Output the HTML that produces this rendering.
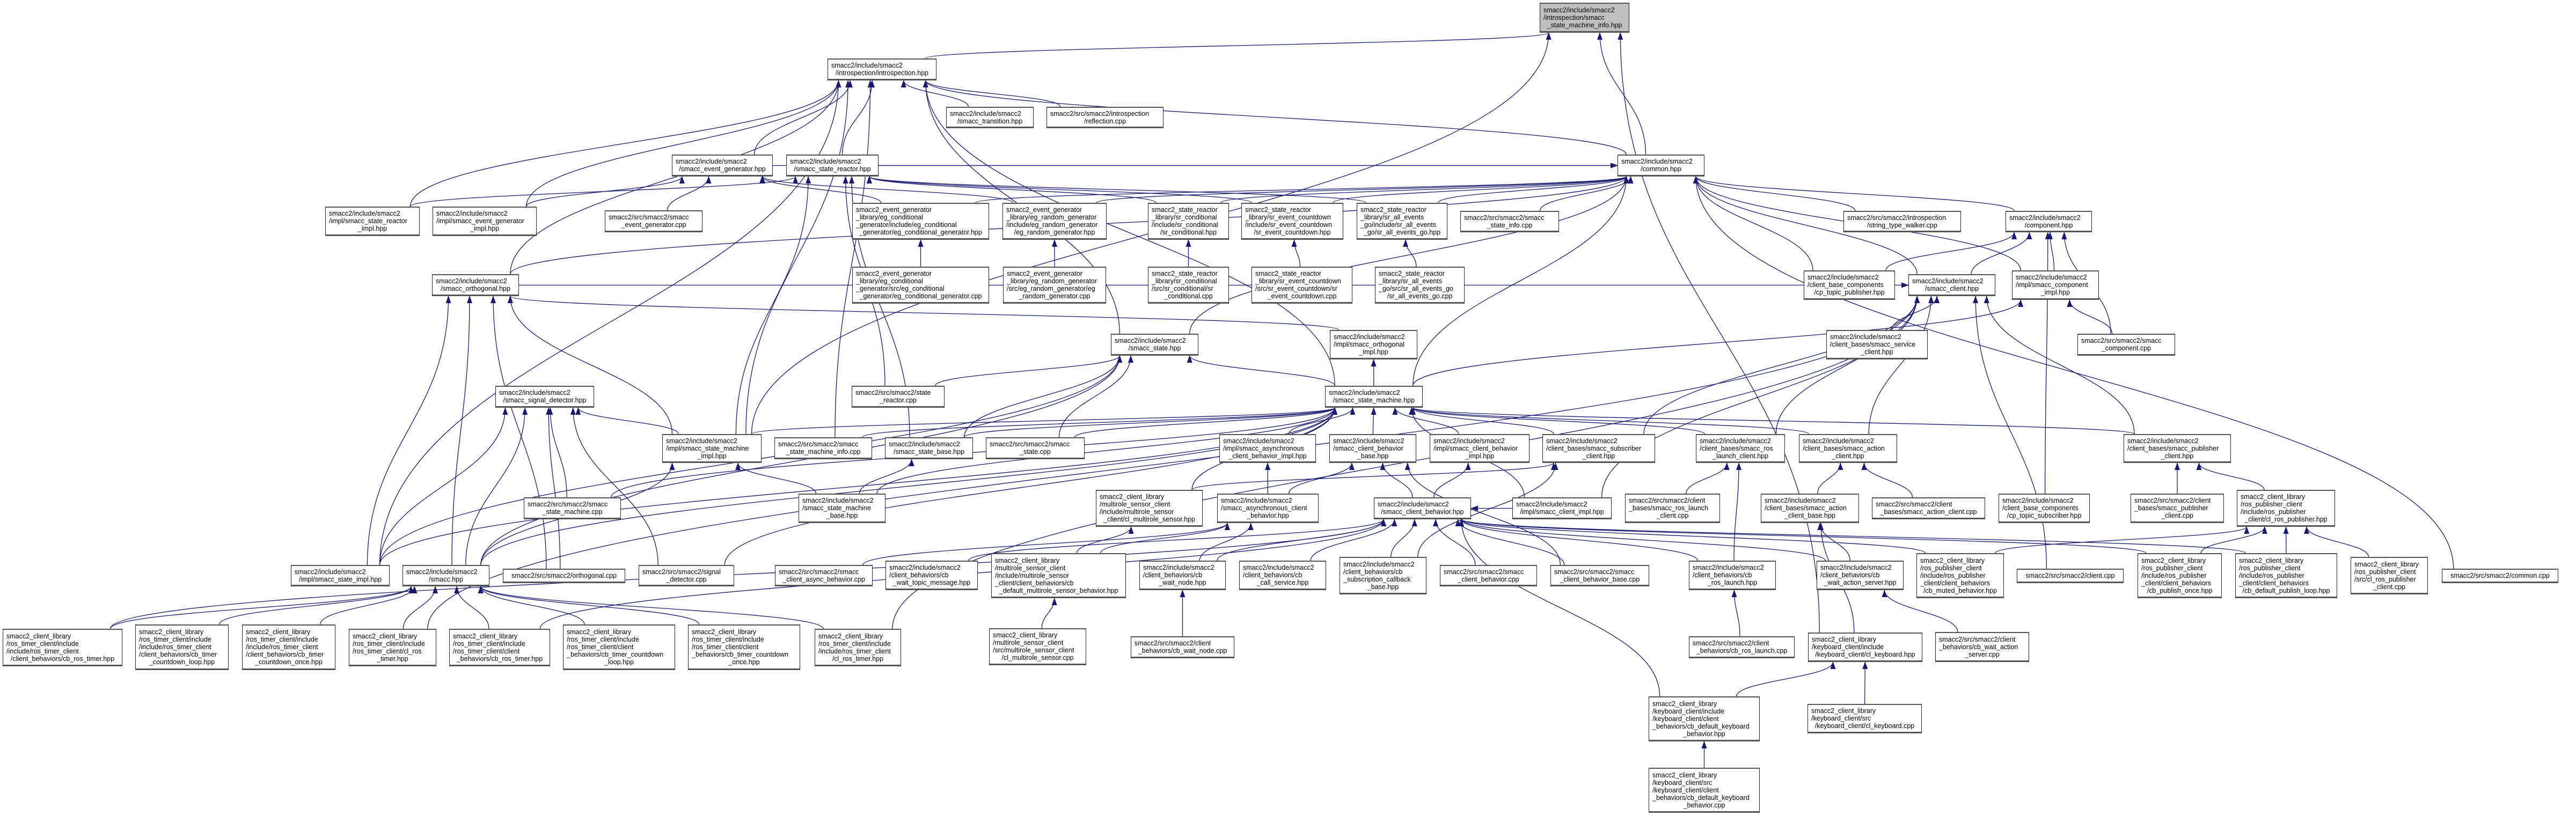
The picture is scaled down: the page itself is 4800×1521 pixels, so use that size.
<!DOCTYPE html>
<html><head><meta charset="utf-8">
<style>
html,body{margin:0;padding:0;background:#fff;}
#wrap{position:relative;width:4800px;height:1521px;overflow:hidden;background:#fff;}
svg{position:absolute;left:0;top:0;}
.n{position:absolute;box-sizing:border-box;background:#fff;border:1.5px solid #222;border-top:2.5px solid #555;border-bottom:3px solid #555;
font-family:"Liberation Sans",sans-serif;font-size:12.5px;line-height:14px;color:#000;
display:flex;flex-direction:column;justify-content:center;padding:0 6px;white-space:nowrap;z-index:2;}
.n div{ text-align:left;}
.n div.c{text-align:center;}
.g{background:#bfbfbf;}
</style></head><body><div id="wrap">
<svg id="sv" width="4800" height="1521" xmlns="http://www.w3.org/2000/svg">
<defs><marker id="ah" markerUnits="userSpaceOnUse" markerWidth="14" markerHeight="10" refX="13" refY="5" orient="auto"><path d="M0,0 L14,5 L0,10 z" fill="#191970"/></marker></defs>
<g id="eg" fill="none" stroke="#191970" stroke-width="1.3"></g>
</svg>
<div class="n g" id="root" style="left:2869px;top:5px;width:167px;height:56px"><div>smacc2/include/smacc2</div><div>/introspection/smacc</div><div class="c">_state_machine_info.hpp</div></div>
<div class="n" id="intro" style="left:1542px;top:109px;width:203px;height:41px"><div>smacc2/include/smacc2</div><div class="c">/introspection/introspection.hpp</div></div>
<div class="n" id="trans" style="left:1763px;top:199px;width:163px;height:40px"><div>smacc2/include/smacc2</div><div class="c">/smacc_transition.hpp</div></div>
<div class="n" id="refl" style="left:1950px;top:199px;width:218px;height:40px"><div>smacc2/src/smacc2/introspection</div><div class="c">/reflection.cpp</div></div>
<div class="n" id="evgen" style="left:1252px;top:288px;width:188px;height:41px"><div>smacc2/include/smacc2</div><div class="c">/smacc_event_generator.hpp</div></div>
<div class="n" id="sreact" style="left:1465px;top:288px;width:172px;height:41px"><div>smacc2/include/smacc2</div><div class="c">/smacc_state_reactor.hpp</div></div>
<div class="n" id="common" style="left:3014px;top:288px;width:162px;height:41px"><div>smacc2/include/smacc2</div><div class="c">/common.hpp</div></div>
<div class="n" id="srimpl" style="left:606px;top:385px;width:176px;height:55px"><div>smacc2/include/smacc2</div><div>/impl/smacc_state_reactor</div><div class="c">_impl.hpp</div></div>
<div class="n" id="egimpl" style="left:806px;top:385px;width:194px;height:55px"><div>smacc2/include/smacc2</div><div>/impl/smacc_event_generator</div><div class="c">_impl.hpp</div></div>
<div class="n" id="egcpp" style="left:1127px;top:392px;width:182px;height:41px"><div>smacc2/src/smacc2/smacc</div><div class="c">_event_generator.cpp</div></div>
<div class="n" id="egcondh" style="left:1588px;top:378px;width:255px;height:69px"><div>smacc2_event_generator</div><div>_library/eg_conditional</div><div>_generator/include/eg_conditional</div><div class="c">_generator/eg_conditional_generator.hpp</div></div>
<div class="n" id="egrandh" style="left:1868px;top:378px;width:194px;height:69px"><div>smacc2_event_generator</div><div>_library/eg_random_generator</div><div>/include/eg_random_generator</div><div class="c">/eg_random_generator.hpp</div></div>
<div class="n" id="srcondh" style="left:2139px;top:378px;width:151px;height:69px"><div>smacc2_state_reactor</div><div>_library/sr_conditional</div><div>/include/sr_conditional</div><div class="c">/sr_conditional.hpp</div></div>
<div class="n" id="srevh" style="left:2313px;top:378px;width:190px;height:69px"><div>smacc2_state_reactor</div><div>_library/sr_event_countdown</div><div>/include/sr_event_countdown</div><div class="c">/sr_event_countdown.hpp</div></div>
<div class="n" id="srallh" style="left:2528px;top:378px;width:169px;height:69px"><div>smacc2_state_reactor</div><div>_library/sr_all_events</div><div>_go/include/sr_all_events</div><div class="c">_go/sr_all_events_go.hpp</div></div>
<div class="n" id="sinfo" style="left:2721px;top:393px;width:184px;height:40px"><div>smacc2/src/smacc2/smacc</div><div class="c">_state_info.cpp</div></div>
<div class="n" id="stw" style="left:3435px;top:393px;width:219px;height:40px"><div>smacc2/src/smacc2/introspection</div><div class="c">/string_type_walker.cpp</div></div>
<div class="n" id="comp" style="left:3737px;top:393px;width:161px;height:40px"><div>smacc2/include/smacc2</div><div class="c">/component.hpp</div></div>
<div class="n" id="orth" style="left:805px;top:511px;width:162px;height:41px"><div>smacc2/include/smacc2</div><div class="c">/smacc_orthogonal.hpp</div></div>
<div class="n" id="egcondc" style="left:1588px;top:497px;width:255px;height:69px"><div>smacc2_event_generator</div><div>_library/eg_conditional</div><div>_generator/src/eg_conditional</div><div class="c">_generator/eg_conditional_generator.cpp</div></div>
<div class="n" id="egrandc" style="left:1869px;top:497px;width:192px;height:69px"><div>smacc2_event_generator</div><div>_library/eg_random_generator</div><div>/src/eg_random_generator/eg</div><div class="c">_random_generator.cpp</div></div>
<div class="n" id="srcondc" style="left:2139px;top:497px;width:151px;height:69px"><div>smacc2_state_reactor</div><div>_library/sr_conditional</div><div>/src/sr_conditional/sr</div><div class="c">_conditional.cpp</div></div>
<div class="n" id="srevc" style="left:2332px;top:497px;width:188px;height:69px"><div>smacc2_state_reactor</div><div>_library/sr_event_countdown</div><div>/src/sr_event_countdown/sr</div><div class="c">_event_countdown.cpp</div></div>
<div class="n" id="srallc" style="left:2562px;top:497px;width:167px;height:69px"><div>smacc2_state_reactor</div><div>_library/sr_all_events</div><div>_go/src/sr_all_events_go</div><div class="c">/sr_all_events_go.cpp</div></div>
<div class="n" id="cptp" style="left:3361px;top:504px;width:170px;height:55px"><div>smacc2/include/smacc2</div><div>/client_base_components</div><div class="c">/cp_topic_publisher.hpp</div></div>
<div class="n" id="client" style="left:3556px;top:511px;width:162px;height:41px"><div>smacc2/include/smacc2</div><div class="c">/smacc_client.hpp</div></div>
<div class="n" id="compimpl" style="left:3749px;top:504px;width:162px;height:55px"><div>smacc2/include/smacc2</div><div>/impl/smacc_component</div><div class="c">_impl.hpp</div></div>
<div class="n" id="state" style="left:2070px;top:622px;width:163px;height:41px"><div>smacc2/include/smacc2</div><div class="c">/smacc_state.hpp</div></div>
<div class="n" id="orthimpl" style="left:2478px;top:615px;width:163px;height:55px"><div>smacc2/include/smacc2</div><div>/impl/smacc_orthogonal</div><div class="c">_impl.hpp</div></div>
<div class="n" id="svc" style="left:3403px;top:615px;width:189px;height:55px"><div>smacc2/include/smacc2</div><div>/client_bases/smacc_service</div><div class="c">_client.hpp</div></div>
<div class="n" id="compcpp" style="left:3871px;top:622px;width:182px;height:41px"><div>smacc2/src/smacc2/smacc</div><div class="c">_component.cpp</div></div>
<div class="n" id="sigdet" style="left:923px;top:719px;width:184px;height:41px"><div>smacc2/include/smacc2</div><div class="c">/smacc_signal_detector.hpp</div></div>
<div class="n" id="srcpp" style="left:1587px;top:719px;width:173px;height:41px"><div>smacc2/src/smacc2/state</div><div class="c">_reactor.cpp</div></div>
<div class="n" id="sm" style="left:2469px;top:719px;width:182px;height:41px"><div>smacc2/include/smacc2</div><div class="c">/smacc_state_machine.hpp</div></div>
<div class="n" id="smimpl" style="left:1234px;top:809px;width:185px;height:54px"><div>smacc2/include/smacc2</div><div>/impl/smacc_state_machine</div><div class="c">_impl.hpp</div></div>
<div class="n" id="sminfo" style="left:1443px;top:815px;width:182px;height:41px"><div>smacc2/src/smacc2/smacc</div><div class="c">_state_machine_info.cpp</div></div>
<div class="n" id="sbase" style="left:1649px;top:815px;width:164px;height:41px"><div>smacc2/include/smacc2</div><div class="c">/smacc_state_base.hpp</div></div>
<div class="n" id="statecpp" style="left:1837px;top:815px;width:184px;height:41px"><div>smacc2/src/smacc2/smacc</div><div class="c">_state.cpp</div></div>
<div class="n" id="asyncimpl" style="left:2272px;top:809px;width:180px;height:54px"><div>smacc2/include/smacc2</div><div>/impl/smacc_asynchronous</div><div class="c">_client_behavior_impl.hpp</div></div>
<div class="n" id="cbbase" style="left:2477px;top:809px;width:162px;height:54px"><div>smacc2/include/smacc2</div><div>/smacc_client_behavior</div><div class="c">_base.hpp</div></div>
<div class="n" id="cbimpl" style="left:2664px;top:809px;width:186px;height:54px"><div>smacc2/include/smacc2</div><div>/impl/smacc_client_behavior</div><div class="c">_impl.hpp</div></div>
<div class="n" id="subcl" style="left:2874px;top:809px;width:210px;height:54px"><div>smacc2/include/smacc2</div><div>/client_bases/smacc_subscriber</div><div class="c">_client.hpp</div></div>
<div class="n" id="rlch" style="left:3160px;top:809px;width:166px;height:54px"><div>smacc2/include/smacc2</div><div>/client_bases/smacc_ros</div><div class="c">_launch_client.hpp</div></div>
<div class="n" id="acth" style="left:3352px;top:809px;width:183px;height:54px"><div>smacc2/include/smacc2</div><div>/client_bases/smacc_action</div><div class="c">_client.hpp</div></div>
<div class="n" id="pubh" style="left:3957px;top:809px;width:200px;height:54px"><div>smacc2/include/smacc2</div><div>/client_bases/smacc_publisher</div><div class="c">_client.hpp</div></div>
<div class="n" id="smcpp" style="left:976px;top:927px;width:181px;height:41px"><div>smacc2/src/smacc2/smacc</div><div class="c">_state_machine.cpp</div></div>
<div class="n" id="smbase" style="left:1488px;top:920px;width:162px;height:55px"><div>smacc2/include/smacc2</div><div>/smacc_state_machine</div><div class="c">_base.hpp</div></div>
<div class="n" id="multih" style="left:2042px;top:913px;width:199px;height:69px"><div>smacc2_client_library</div><div>/multirole_sensor_client</div><div>/include/multirole_sensor</div><div class="c">_client/cl_multirole_sensor.hpp</div></div>
<div class="n" id="asynccb" style="left:2268px;top:920px;width:189px;height:55px"><div>smacc2/include/smacc2</div><div>/smacc_asynchronous_client</div><div class="c">_behavior.hpp</div></div>
<div class="n" id="cb" style="left:2560px;top:927px;width:181px;height:41px"><div>smacc2/include/smacc2</div><div class="c">/smacc_client_behavior.hpp</div></div>
<div class="n" id="climpl" style="left:2818px;top:927px;width:185px;height:41px"><div>smacc2/include/smacc2</div><div class="c">/impl/smacc_client_impl.hpp</div></div>
<div class="n" id="rlcpp" style="left:3028px;top:920px;width:177px;height:55px"><div>smacc2/src/smacc2/client</div><div>_bases/smacc_ros_launch</div><div class="c">_client.cpp</div></div>
<div class="n" id="actbase" style="left:3281px;top:920px;width:183px;height:55px"><div>smacc2/include/smacc2</div><div>/client_bases/smacc_action</div><div class="c">_client_base.hpp</div></div>
<div class="n" id="actcpp" style="left:3488px;top:927px;width:211px;height:41px"><div>smacc2/src/smacc2/client</div><div class="c">_bases/smacc_action_client.cpp</div></div>
<div class="n" id="cpts" style="left:3724px;top:920px;width:170px;height:55px"><div>smacc2/include/smacc2</div><div>/client_base_components</div><div class="c">/cp_topic_subscriber.hpp</div></div>
<div class="n" id="pubcpp" style="left:3970px;top:920px;width:174px;height:55px"><div>smacc2/src/smacc2/client</div><div>_bases/smacc_publisher</div><div class="c">_client.cpp</div></div>
<div class="n" id="rospubh" style="left:4168px;top:913px;width:183px;height:69px"><div>smacc2_client_library</div><div>/ros_publisher_client</div><div>/include/ros_publisher</div><div class="c">_client/cl_ros_publisher.hpp</div></div>
<div class="n" id="stimpl" style="left:542px;top:1053px;width:184px;height:40px"><div>smacc2/include/smacc2</div><div class="c">/impl/smacc_state_impl.hpp</div></div>
<div class="n" id="smacch" style="left:750px;top:1053px;width:162px;height:40px"><div>smacc2/include/smacc2</div><div class="c">/smacc.hpp</div></div>
<div class="n" id="orthcpp" style="left:937px;top:1060px;width:228px;height:27px"><div class="c">smacc2/src/smacc2/orthogonal.cpp</div></div>
<div class="n" id="sigcpp" style="left:1190px;top:1053px;width:178px;height:40px"><div>smacc2/src/smacc2/signal</div><div class="c">_detector.cpp</div></div>
<div class="n" id="asynccpp" style="left:1444px;top:1053px;width:182px;height:40px"><div>smacc2/src/smacc2/smacc</div><div class="c">_client_async_behavior.cpp</div></div>
<div class="n" id="wtm" style="left:1650px;top:1045px;width:172px;height:55px"><div>smacc2/include/smacc2</div><div>/client_behaviors/cb</div><div class="c">_wait_topic_message.hpp</div></div>
<div class="n" id="dms" style="left:1847px;top:1031px;width:251px;height:84px"><div>smacc2_client_library</div><div>/multirole_sensor_client</div><div>/include/multirole_sensor</div><div>_client/client_behaviors/cb</div><div class="c">_default_multirole_sensor_behavior.hpp</div></div>
<div class="n" id="wnh" style="left:2123px;top:1045px;width:161px;height:55px"><div>smacc2/include/smacc2</div><div>/client_behaviors/cb</div><div class="c">_wait_node.hpp</div></div>
<div class="n" id="csh" style="left:2309px;top:1045px;width:162px;height:55px"><div>smacc2/include/smacc2</div><div>/client_behaviors/cb</div><div class="c">_call_service.hpp</div></div>
<div class="n" id="scb" style="left:2496px;top:1038px;width:162px;height:70px"><div>smacc2/include/smacc2</div><div>/client_behaviors/cb</div><div>_subscription_callback</div><div class="c">_base.hpp</div></div>
<div class="n" id="cbcpp" style="left:2683px;top:1053px;width:181px;height:40px"><div>smacc2/src/smacc2/smacc</div><div class="c">_client_behavior.cpp</div></div>
<div class="n" id="cbbcpp" style="left:2889px;top:1053px;width:184px;height:40px"><div>smacc2/src/smacc2/smacc</div><div class="c">_client_behavior_base.cpp</div></div>
<div class="n" id="rlb" style="left:3147px;top:1045px;width:162px;height:55px"><div>smacc2/include/smacc2</div><div>/client_behaviors/cb</div><div class="c">_ros_launch.hpp</div></div>
<div class="n" id="was" style="left:3385px;top:1045px;width:162px;height:55px"><div>smacc2/include/smacc2</div><div>/client_behaviors/cb</div><div class="c">_wait_action_server.hpp</div></div>
<div class="n" id="muted" style="left:3571px;top:1031px;width:163px;height:84px"><div>smacc2_client_library</div><div>/ros_publisher_client</div><div>/include/ros_publisher</div><div>_client/client_behaviors</div><div class="c">/cb_muted_behavior.hpp</div></div>
<div class="n" id="clientcpp" style="left:3758px;top:1060px;width:199px;height:27px"><div class="c">smacc2/src/smacc2/client.cpp</div></div>
<div class="n" id="ponce" style="left:3983px;top:1031px;width:157px;height:84px"><div>smacc2_client_library</div><div>/ros_publisher_client</div><div>/include/ros_publisher</div><div>_client/client_behaviors</div><div class="c">/cb_publish_once.hpp</div></div>
<div class="n" id="ploop" style="left:4165px;top:1031px;width:190px;height:84px"><div>smacc2_client_library</div><div>/ros_publisher_client</div><div>/include/ros_publisher</div><div>_client/client_behaviors</div><div class="c">/cb_default_publish_loop.hpp</div></div>
<div class="n" id="rospubc" style="left:4380px;top:1038px;width:144px;height:70px"><div>smacc2_client_library</div><div>/ros_publisher_client</div><div>/src/cl_ros_publisher</div><div class="c">_client.cpp</div></div>
<div class="n" id="commoncpp" style="left:4550px;top:1060px;width:217px;height:27px"><div class="c">smacc2/src/smacc2/common.cpp</div></div>
<div class="n" id="t1" style="left:5px;top:1172px;width:223px;height:70px"><div>smacc2_client_library</div><div>/ros_timer_client/include</div><div>/include/ros_timer_client</div><div class="c">/client_behaviors/cb_ros_timer.hpp</div></div>
<div class="n" id="t2" style="left:252px;top:1164px;width:174px;height:85px"><div>smacc2_client_library</div><div>/ros_timer_client/include</div><div>/include/ros_timer_client</div><div>/client_behaviors/cb_timer</div><div class="c">_countdown_loop.hpp</div></div>
<div class="n" id="t3" style="left:451px;top:1164px;width:174px;height:85px"><div>smacc2_client_library</div><div>/ros_timer_client/include</div><div>/include/ros_timer_client</div><div>/client_behaviors/cb_timer</div><div class="c">_countdown_once.hpp</div></div>
<div class="n" id="t4" style="left:650px;top:1172px;width:163px;height:70px"><div>smacc2_client_library</div><div>/ros_timer_client/include</div><div>/ros_timer_client/cl_ros</div><div class="c">_timer.hpp</div></div>
<div class="n" id="t5" style="left:837px;top:1172px;width:188px;height:70px"><div>smacc2_client_library</div><div>/ros_timer_client/include</div><div>/ros_timer_client/client</div><div class="c">_behaviors/cb_ros_timer.hpp</div></div>
<div class="n" id="t6" style="left:1049px;top:1164px;width:209px;height:85px"><div>smacc2_client_library</div><div>/ros_timer_client/include</div><div>/ros_timer_client/client</div><div>_behaviors/cb_timer_countdown</div><div class="c">_loop.hpp</div></div>
<div class="n" id="t7" style="left:1282px;top:1164px;width:209px;height:85px"><div>smacc2_client_library</div><div>/ros_timer_client/include</div><div>/ros_timer_client/client</div><div>_behaviors/cb_timer_countdown</div><div class="c">_once.hpp</div></div>
<div class="n" id="t8" style="left:1518px;top:1172px;width:161px;height:70px"><div>smacc2_client_library</div><div>/ros_timer_client/include</div><div>/include/ros_timer_client</div><div class="c">/cl_ros_timer.hpp</div></div>
<div class="n" id="mscpp" style="left:1843px;top:1171px;width:181px;height:69px"><div>smacc2_client_library</div><div>/multirole_sensor_client</div><div>/src/multirole_sensor_client</div><div class="c">/cl_multirole_sensor.cpp</div></div>
<div class="n" id="wncpp" style="left:2107px;top:1186px;width:193px;height:41px"><div>smacc2/src/smacc2/client</div><div class="c">_behaviors/cb_wait_node.cpp</div></div>
<div class="n" id="rlbcpp" style="left:3147px;top:1186px;width:197px;height:41px"><div>smacc2/src/smacc2/client</div><div class="c">_behaviors/cb_ros_launch.cpp</div></div>
<div class="n" id="kbh" style="left:3369px;top:1179px;width:213px;height:55px"><div>smacc2_client_library</div><div>/keyboard_client/include</div><div class="c">/keyboard_client/cl_keyboard.hpp</div></div>
<div class="n" id="wascpp" style="left:3606px;top:1178px;width:175px;height:56px"><div>smacc2/src/smacc2/client</div><div>_behaviors/cb_wait_action</div><div class="c">_server.cpp</div></div>
<div class="n" id="kbbh" style="left:3072px;top:1298px;width:207px;height:84px"><div>smacc2_client_library</div><div>/keyboard_client/include</div><div>/keyboard_client/client</div><div>_behaviors/cb_default_keyboard</div><div class="c">_behavior.hpp</div></div>
<div class="n" id="kbcpp" style="left:3368px;top:1312px;width:213px;height:55px"><div>smacc2_client_library</div><div>/keyboard_client/src</div><div class="c">/keyboard_client/cl_keyboard.cpp</div></div>
<div class="n" id="kbbc" style="left:3072px;top:1431px;width:207px;height:84px"><div>smacc2_client_library</div><div>/keyboard_client/src</div><div>/keyboard_client/client</div><div>_behaviors/cb_default_keyboard</div><div class="c">_behavior.cpp</div></div>
</div>
<script>
(function(){
var E="intro>root common>root smimpl>root kbh>root "+
"trans>intro refl>intro evgen>intro sreact>intro srimpl>intro egimpl>intro orth>intro smimpl>intro sminfo>intro common>intro sm>intro state>intro stimpl>intro "+
"evgen>common sreact>common egcondh>common egrandh>common srcondh>common srevh>common srallh>common sinfo>common stw>common comp>common cptp>common client>common orth>common sm>common state>common commoncpp>common compimpl>common "+
"srimpl>sreact srcondh>sreact srevh>sreact srallh>sreact srcpp>sreact smimpl>sreact sbase>sreact "+
"egcondh>evgen egrandh>evgen egimpl>evgen egcpp>evgen "+
"egcondc>egcondh egrandc>egrandh srcondc>srcondh srevc>srevh srallc>srallh "+
"cptp>comp client>comp compimpl>comp compcpp>comp cpts>comp compcpp>compimpl sm>compimpl "+
"svc>client subcl>client rlch>client acth>client pubh>client climpl>client clientcpp>client orth>client "+
"orthimpl>orth smimpl>orth orthcpp>orth smacch>orth stimpl>orth "+
"sbase>state srcpp>state statecpp>state stimpl>state smacch>state sm>state sm>orthimpl "+
"smimpl>sm sminfo>sm sbase>sm statecpp>sm asyncimpl>sm cbbase>sm cbimpl>sm subcl>sm rlch>sm acth>sm smcpp>sm smbase>sm multih>sm climpl>sm pubh>sm smacch>sm stimpl>sm sigcpp>sm "+
"smimpl>sigdet smcpp>sigdet stimpl>sigdet smacch>sigdet orthcpp>sigdet sigcpp>sigdet "+
"smbase>smimpl smacch>smimpl smbase>sbase asynccb>asyncimpl asynccb>cbbase cb>cbbase cbbcpp>cbbase cb>cbimpl "+
"multih>subcl scb>subcl rlcpp>rlch rlb>rlch actbase>acth actcpp>acth was>actbase kbh>actbase pubcpp>pubh rospubh>pubh "+
"muted>rospubh ponce>rospubh ploop>rospubh rospubc>rospubh "+
"wtm>cb wnh>cb csh>cb scb>cb cbcpp>cb cbbcpp>cb rlb>cb was>cb muted>cb ponce>cb ploop>cb kbbh>cb climpl>cb "+
"asynccpp>asynccb dms>asynccb wnh>asynccb dms>multih mscpp>dms wncpp>wnh rlbcpp>rlb wascpp>was kbbh>kbh kbcpp>kbh kbbc>kbbh "+
"t1>smacch t2>smacch t3>smacch t4>smacch t5>smacch t6>smacch t7>smacch t8>smacch t1>cb t5>cb t4>client t8>client";
function box(id){var e=document.getElementById(id);return {x:e.offsetLeft,y:e.offsetTop,w:e.offsetWidth,h:e.offsetHeight};}
var g=document.getElementById('eg'),ns="http://www.w3.org/2000/svg";
E.split(/\s+/).forEach(function(p){if(!p)return;var a=p.split('>');var s=box(a[0]),t=box(a[1]);
var scx=s.x+s.w/2,tcx=t.x+t.w/2;
function cl(v,m){return Math.max(-m,Math.min(m,v));}
var sx,sy,tx,ty,d;
if(s.y>t.y+t.h-5){
 sx=scx+cl((tcx-scx)*0.2,s.w*0.4);sy=s.y;tx=tcx+cl((scx-tcx)*0.2,t.w*0.4);ty=t.y+t.h;
 var dy=sy-ty;d="M"+sx+","+sy+" C"+sx+","+(sy-dy*0.45)+" "+tx+","+(ty+dy*0.45)+" "+tx+","+ty;
}else if(s.y+s.h<t.y){
 sx=scx;sy=s.y+s.h;tx=tcx;ty=t.y;var dy2=ty-sy;d="M"+sx+","+sy+" C"+sx+","+(sy+dy2*0.45)+" "+tx+","+(ty-dy2*0.45)+" "+tx+","+ty;
}else{
 if(scx<tcx){sx=s.x+s.w;tx=t.x;}else{sx=s.x;tx=t.x+t.w;}
 sy=s.y+s.h/2;ty=t.y+t.h/2;var dx=tx-sx;d="M"+sx+","+sy+" C"+(sx+dx*0.4)+","+sy+" "+(tx-dx*0.4)+","+ty+" "+tx+","+ty;
}
var pa=document.createElementNS(ns,'path');pa.setAttribute('d',d);pa.setAttribute('marker-end','url(#ah)');g.appendChild(pa);});
})();
</script>
</body></html>
